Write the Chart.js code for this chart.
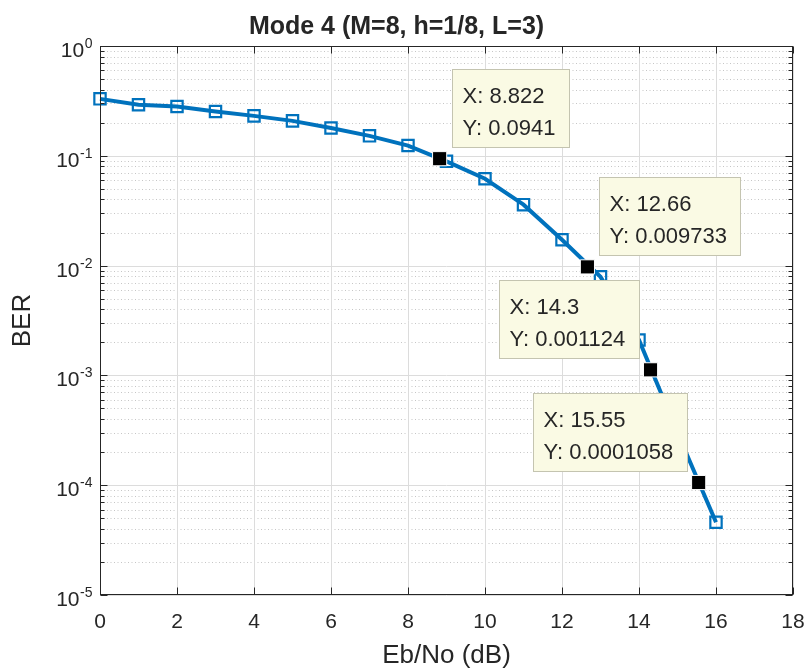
<!DOCTYPE html>
<html>
<head>
<meta charset="utf-8">
<title>Mode 4 BER</title>
<script src="https://cdn.jsdelivr.net/npm/chart.js@4/dist/chart.umd.min.js"></script>
<style>
  html, body { margin: 0; padding: 0; background: #fff; }
  #wrap { width: 807px; height: 672px; }
</style>
</head>
<body>
<div id="wrap"><canvas id="c" width="807" height="672"></canvas></div>
<script>
// ---- Data ----
const ebno = [0, 1, 2, 3, 4, 5, 6, 7, 8, 9, 10, 11, 12, 13, 14, 15, 16];
const ber = [0.33, 0.292, 0.281, 0.253, 0.231, 0.208, 0.179, 0.152, 0.124, 0.089,
             0.0618, 0.0359, 0.0172, 0.0079, 0.0021, 0.00030, 0.000046];

// data tips (MATLAB datacursor)
const tipX = [8.822, 12.66, 14.3, 15.55];
const tipY = [0.0941, 0.009733, 0.001124, 0.0001058];
const tipSide = ['right', 'right', 'left', 'left'];

const xTicks = [0, 2, 4, 6, 8, 10, 12, 14, 16, 18];
const yDecades = [-5, -4, -3, -2, -1, 0];

const FONT = "'Liberation Sans', Arial, Helvetica, sans-serif";
const INK = '#262626';

// ---- MATLAB-ish grid (drawn under the data) ----
const matlabGrid = {
  id: 'matlabGrid',
  beforeDatasetsDraw(chart) {
    const { ctx, chartArea: a, scales: { x, y } } = chart;
    ctx.save();
    ctx.lineWidth = 1;
    // minor y grid, dotted
    ctx.strokeStyle = '#c6c6c6';
    ctx.setLineDash([1, 2.5]);
    yDecades.slice(0, -1).forEach(e => {
      for (let m = 2; m <= 9; m++) {
        const py = Math.round(y.getPixelForValue(m * Math.pow(10, e))) + 0.5;
        ctx.beginPath(); ctx.moveTo(a.left, py); ctx.lineTo(a.right, py); ctx.stroke();
      }
    });
    // major grid, solid
    ctx.setLineDash([]);
    ctx.strokeStyle = '#dcdcdc';
    yDecades.forEach(e => {
      const py = Math.round(y.getPixelForValue(Math.pow(10, e))) + 0.5;
      ctx.beginPath(); ctx.moveTo(a.left, py); ctx.lineTo(a.right, py); ctx.stroke();
    });
    xTicks.forEach(v => {
      const px = Math.round(x.getPixelForValue(v)) + 0.5;
      ctx.beginPath(); ctx.moveTo(px, a.top); ctx.lineTo(px, a.bottom); ctx.stroke();
    });
    ctx.restore();
  }
};

// ---- box, inward ticks, log labels, data tip boxes ----
const matlabFrame = {
  id: 'matlabFrame',
  afterDatasetsDraw(chart) {
    const { ctx, chartArea: a, scales: { x, y } } = chart;
    ctx.save();

    // data tip boxes
    ctx.font = '22px ' + FONT;
    tipX.forEach((tx, i) => {
      const px = x.getPixelForValue(tx);
      const py = y.getPixelForValue(tipY[i]);
      const l1 = 'X: ' + tx, l2 = 'Y: ' + tipY[i];
      const w = Math.round(Math.max(ctx.measureText(l1).width, ctx.measureText(l2).width) + 24);
      const h = 78;
      const bx = Math.round(tipSide[i] === 'right' ? px + 12 : px - 12 - w) + 0.5;
      const by = Math.round(py - 12 - h) + 0.5;
      ctx.fillStyle = '#fafae4';
      ctx.strokeStyle = '#c4c4b0';
      ctx.lineWidth = 1;
      ctx.fillRect(bx, by, w, h);
      ctx.strokeRect(bx, by, w, h);
      ctx.fillStyle = INK;
      ctx.textAlign = 'left';
      ctx.textBaseline = 'alphabetic';
      ctx.fillText(l1, bx + 10, by + 33);
      ctx.fillText(l2, bx + 10, by + 65);
    });

    // axes box
    ctx.strokeStyle = INK;
    ctx.lineWidth = 1;
    const L = Math.round(a.left) + 0.5, R = Math.round(a.right) - 0.5;
    const T = Math.round(a.top) + 0.5, B = Math.round(a.bottom) - 0.5;
    ctx.strokeRect(L, T, R - L, B - T);

    // inward ticks
    ctx.beginPath();
    xTicks.forEach(v => {
      const px = Math.round(x.getPixelForValue(v)) + 0.5;
      ctx.moveTo(px, B); ctx.lineTo(px, B - 7);
      ctx.moveTo(px, T); ctx.lineTo(px, T + 7);
    });
    yDecades.forEach(e => {
      const py = Math.round(y.getPixelForValue(Math.pow(10, e))) + 0.5;
      ctx.moveTo(L, py); ctx.lineTo(L + 7, py);
      ctx.moveTo(R, py); ctx.lineTo(R - 7, py);
      if (e < 0) {
        for (let m = 2; m <= 9; m++) {
          const pm = Math.round(y.getPixelForValue(m * Math.pow(10, e))) + 0.5;
          ctx.moveTo(L, pm); ctx.lineTo(L + 4, pm);
          ctx.moveTo(R, pm); ctx.lineTo(R - 4, pm);
        }
      }
    });
    ctx.stroke();

    // y tick labels 10^n
    ctx.fillStyle = INK;
    ctx.textAlign = 'left';
    ctx.textBaseline = 'alphabetic';
    yDecades.forEach(e => {
      const py = y.getPixelForValue(Math.pow(10, e));
      const sup = String(e);
      ctx.font = '21px ' + FONT;
      const wb = ctx.measureText('10').width;
      ctx.font = '14px ' + FONT;
      const ws = ctx.measureText(sup).width;
      const x0 = 92 - wb - ws;
      ctx.font = '21px ' + FONT;
      ctx.fillText('10', x0, py + 11);
      ctx.font = '14px ' + FONT;
      ctx.fillText(sup, x0 + wb + 0.5, py + 2);
    });

    ctx.restore();
  }
};

new Chart(document.getElementById('c'), {
  type: 'line',
  data: {
    datasets: [
      {
        label: 'BER',
        data: ebno.map((v, i) => ({ x: v, y: ber[i] })),
        borderColor: '#0072BD',
        borderWidth: 4,
        pointStyle: 'rect',
        pointRadius: 8,
        pointBorderWidth: 2.2,
        pointBorderColor: '#0072BD',
        pointBackgroundColor: 'rgba(0,0,0,0)',
        tension: 0,
        order: 1,
        clip: false
      },
      {
        label: 'tips',
        type: 'scatter',
        data: tipX.map((v, i) => ({ x: v, y: tipY[i] })),
        pointStyle: 'rect',
        pointRadius: 10,
        backgroundColor: '#000000',
        borderColor: '#ffffff',
        borderWidth: 1,
        order: 0,
        clip: false
      }
    ]
  },
  options: {
    responsive: false,
    animation: false,
    devicePixelRatio: 1,
    layout: { padding: { left: 0, right: 14, top: 0, bottom: 0 } },
    plugins: {
      legend: { display: false },
      tooltip: { enabled: false },
      title: {
        display: true,
        text: 'Mode 4 (M=8, h=1/8, L=3)',
        color: INK,
        font: { family: FONT, size: 25, weight: 'bold' },
        padding: { top: 12, bottom: 4 }
      }
    },
    scales: {
      x: {
        type: 'linear',
        min: 0,
        max: 18,
        afterFit(s) { s.height = 77; s.paddingLeft = 0; s.paddingRight = 0; },
        grid: { display: false, drawTicks: false },
        border: { display: false },
        ticks: {
          stepSize: 2,
          color: INK,
          padding: 15,
          maxRotation: 0,
          font: { family: FONT, size: 21 }
        },
        title: {
          display: true,
          text: 'Eb/No (dB)',
          color: INK,
          font: { family: FONT, size: 26 },
          padding: { top: 0, bottom: 1 }
        }
      },
      y: {
        type: 'logarithmic',
        min: 1e-5,
        max: 1,
        afterFit(s) { s.width = 100; s.paddingTop = 0; s.paddingBottom = 0; },
        grid: { display: false, drawTicks: false },
        border: { display: false },
        ticks: { display: false },
        title: {
          display: true,
          text: 'BER',
          color: INK,
          font: { family: FONT, size: 26 },
          padding: { top: 7, bottom: 0 }
        }
      }
    }
  },
  plugins: [matlabGrid, matlabFrame]
});
</script>
</body>
</html>
